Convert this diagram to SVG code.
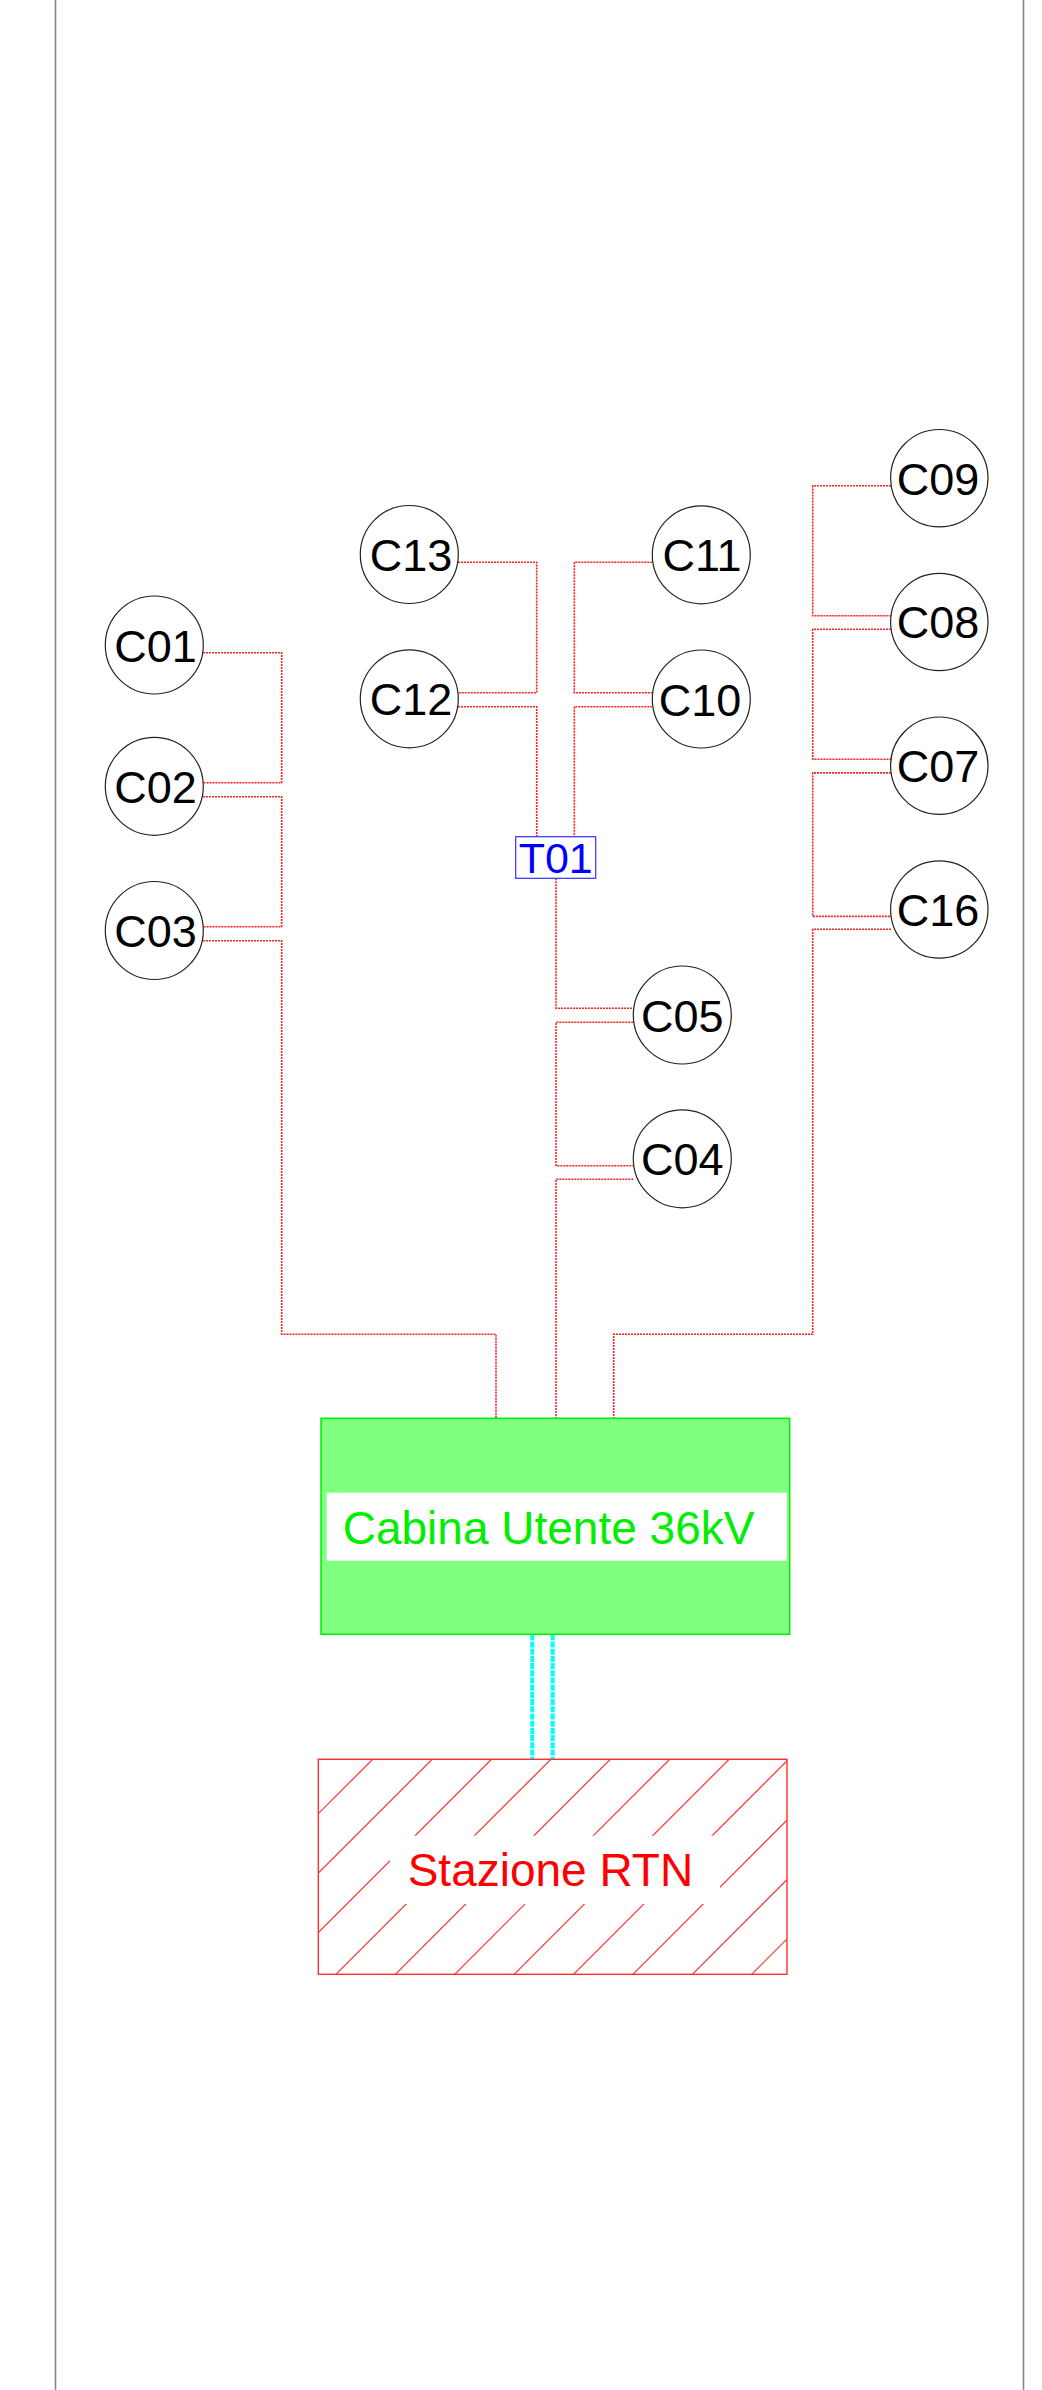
<svg xmlns="http://www.w3.org/2000/svg" width="1042" height="2390" viewBox="0 0 1042 2390">
<style>
.node circle { fill: #ffffff; stroke: #222222; stroke-width: 1.2; }
.lbl { font-family: "Liberation Sans", Arial, sans-serif; font-size: 45px; fill: #000000; text-anchor: middle; }
.conn { fill: none; stroke: #ff2020; stroke-width: 1.6; stroke-dasharray: 2 1; }
.hatch { stroke: #ff3030; stroke-width: 1.2; }
.border { stroke: #888888; stroke-width: 1.6; }
</style>
<defs>
<clipPath id="rtnClip"><rect x="318.3" y="1759.3" width="468.7" height="215"/></clipPath>
</defs>
<rect width="1042" height="2390" fill="#ffffff"/>
<line class="border" x1="55.5" y1="0" x2="55.5" y2="2390"/>
<line class="border" x1="1023.5" y1="0" x2="1023.5" y2="2390"/>

<g id="connectors">
<path class="conn" d="M203,652.7 H281.7 V782.7 H203"/>
<path class="conn" d="M203,796.7 H281.7 V926.7 H203"/>
<path class="conn" d="M203,940.7 H281.7 V1334.3 H496 V1418.3"/>
<path class="conn" d="M458,562.3 H536.7 V692.7 H458"/>
<path class="conn" d="M458,706.7 H536.7 V836.7"/>
<path class="conn" d="M652.3,562.3 H574.3 V692.7 H652.3"/>
<path class="conn" d="M652.3,706.7 H574.3 V836.7"/>
<path class="conn" d="M556,878.3 V1008.3 H633.3"/>
<path class="conn" d="M633.3,1022.3 H556 V1165.7 H633.3"/>
<path class="conn" d="M633.3,1179.3 H556 V1418.3"/>
<path class="conn" d="M891,485.7 H812.7 V615.7 H891"/>
<path class="conn" d="M891,629.3 H812.7 V759.3 H891"/>
<path class="conn" d="M891,772.9 H812.7 V916.4 H891"/>
<path class="conn" d="M891,929.3 H812.7 V1334.3 H613.7 V1418.3"/>
<g id="cyan-link">
<line x1="532.3" y1="1634.3" x2="532.3" y2="1759.3" stroke="#00ffff" stroke-width="4" stroke-dasharray="6 1.2"/>
<line x1="552.7" y1="1634.3" x2="552.7" y2="1759.3" stroke="#00ffff" stroke-width="4" stroke-dasharray="6 1.2"/>
</g>
</g>

<g id="C01" class="node"><circle cx="154.3" cy="645" r="49"/><text class="lbl" x="155.5" y="661.5">C01</text></g>
<g id="C02" class="node"><circle cx="154.3" cy="786.3" r="49"/><text class="lbl" x="155.5" y="802.8">C02</text></g>
<g id="C03" class="node"><circle cx="154.3" cy="930.5" r="49"/><text class="lbl" x="155.5" y="947">C03</text></g>
<g id="C13" class="node"><circle cx="409.3" cy="554.5" r="49"/><text class="lbl" x="411" y="571">C13</text></g>
<g id="C12" class="node"><circle cx="409.3" cy="698.8" r="49"/><text class="lbl" x="411" y="715.3">C12</text></g>
<g id="C11" class="node"><circle cx="701.3" cy="554.8" r="49"/><text class="lbl" x="702" y="571.3">C11</text></g>
<g id="C10" class="node"><circle cx="701.3" cy="699" r="49"/><text class="lbl" x="700" y="715.5">C10</text></g>
<g id="C05" class="node"><circle cx="682.3" cy="1015" r="49"/><text class="lbl" x="682.3" y="1031.5">C05</text></g>
<g id="C04" class="node"><circle cx="682.3" cy="1158.8" r="49"/><text class="lbl" x="682.3" y="1175.3">C04</text></g>
<g id="C09" class="node"><circle cx="939.3" cy="478.2" r="48.7"/><text class="lbl" x="938" y="494.5">C09</text></g>
<g id="C08" class="node"><circle cx="939.3" cy="622" r="48.7"/><text class="lbl" x="938" y="638.3">C08</text></g>
<g id="C07" class="node"><circle cx="939.3" cy="765.7" r="48.7"/><text class="lbl" x="938" y="782">C07</text></g>
<g id="C16" class="node"><circle cx="939.3" cy="909.5" r="48.7"/><text class="lbl" x="938" y="925.8">C16</text></g>

<g id="T01">
<rect x="515.7" y="836.7" width="80" height="41.6" fill="#ffffff" stroke="#3030ff" stroke-width="1.2"/>
<text x="555.7" y="873.3" font-family="'Liberation Sans', Arial, sans-serif" font-size="43" fill="#0000ff" text-anchor="middle">T01</text>
</g>

<g id="cabina">
<rect x="321" y="1418.3" width="468.7" height="216" fill="#80ff80" stroke="#00ee00" stroke-width="1.5"/>
<rect x="326.7" y="1492.7" width="460.3" height="68" fill="#ffffff"/>
<text x="342.7" y="1544" font-family="'Liberation Sans', Arial, sans-serif" font-size="46" fill="#00ee00">Cabina Utente 36kV</text>
</g>

<g id="stazione-rtn">
<g clip-path="url(#rtnClip)" class="hatch">
<line x1="372.7" y1="1759.3" x2="157.7" y2="1974.3"/>
<line x1="432.1" y1="1759.3" x2="217.1" y2="1974.3"/>
<line x1="491.5" y1="1759.3" x2="276.5" y2="1974.3"/>
<line x1="550.9" y1="1759.3" x2="335.9" y2="1974.3"/>
<line x1="610.3" y1="1759.3" x2="395.3" y2="1974.3"/>
<line x1="669.7" y1="1759.3" x2="454.7" y2="1974.3"/>
<line x1="729.1" y1="1759.3" x2="514.1" y2="1974.3"/>
<line x1="788.5" y1="1759.3" x2="573.5" y2="1974.3"/>
<line x1="847.9" y1="1759.3" x2="632.9" y2="1974.3"/>
<line x1="907.3" y1="1759.3" x2="692.3" y2="1974.3"/>
<line x1="966.7" y1="1759.3" x2="751.7" y2="1974.3"/>
</g>
<rect x="390" y="1835.7" width="330" height="68.3" fill="#ffffff"/>
<rect x="318.3" y="1759.3" width="468.7" height="215" fill="none" stroke="#ff3030" stroke-width="1.4"/>
<text x="407.7" y="1885.7" font-family="'Liberation Sans', Arial, sans-serif" font-size="46" fill="#ff0000">Stazione RTN</text>
</g>
</svg>
